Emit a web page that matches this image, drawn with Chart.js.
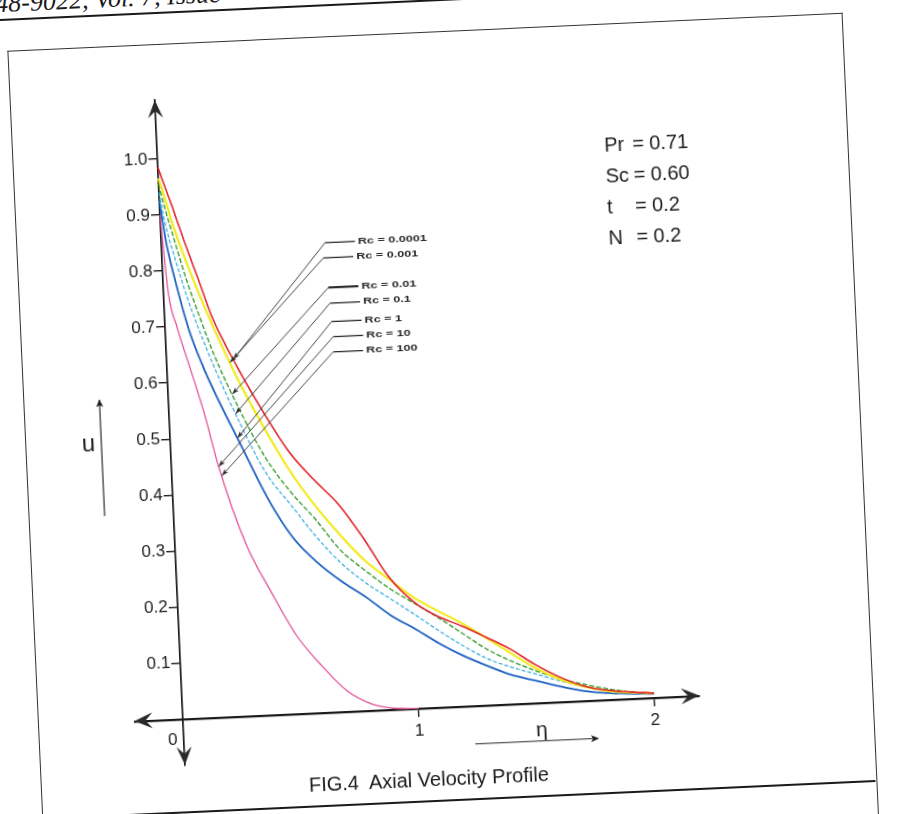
<!DOCTYPE html>
<html><head><meta charset="utf-8">
<title>FIG.4 Axial Velocity Profile</title>
<script src="https://cdn.jsdelivr.net/npm/chart.js@4.4.1/dist/chart.umd.min.js"></script>
<style>
html,body{margin:0;padding:0;background:#fff;width:903px;height:814px;overflow:hidden;}
#page{position:absolute;left:0;top:0;width:903px;height:814px;transform-origin:450px 407px;transform:rotate(-2.6deg);}
#hdr{position:absolute;left:14px;top:-31px;font:italic 26px "Liberation Serif","Times New Roman",serif;line-height:30px;color:#1a1a1a;white-space:nowrap;}
#hline{position:absolute;left:-60px;top:-1px;width:1020px;border-top:2px solid #1a1a1a;}
#frame{position:absolute;left:24px;top:31px;width:834px;height:900px;border:1.5px solid #333;border-bottom:none;}
#bline{position:absolute;left:-60px;top:799px;width:918px;border-top:2px solid #1a1a1a;}
#cap{position:absolute;left:212px;width:400px;top:767px;line-height:24px;text-align:center;font:20px "Liberation Sans",Arial,sans-serif;color:#1a1a1a;white-space:nowrap;}
#c{position:absolute;left:0;top:0;}
</style></head>
<body>
<div id="page">
  <div id="hdr">48-9022, Vol. 7, Issue</div>
  <div id="hline"></div>
  <div id="frame"></div>
  <canvas id="c" width="903" height="814"></canvas>
  <div id="bline"></div>
  <div id="cap">FIG.4&nbsp; Axial Velocity Profile</div>
</div>
<script>
// ---- data ----
const etaValues = [0, 0.02, 0.05, 0.1, 0.15, 0.2, 0.3, 0.4, 0.5, 0.6, 0.7, 0.8, 0.9, 1.0, 1.1, 1.2, 1.3, 1.4, 1.5, 1.6, 1.7, 1.8, 1.9, 2.0];
const uRc_0_0001 = [0.985, 0.958, 0.918, 0.848, 0.782, 0.715, 0.621, 0.540, 0.468, 0.416, 0.370, 0.307, 0.236, 0.190, 0.162, 0.143, 0.121, 0.098, 0.069, 0.045, 0.027, 0.017, 0.012, 0.008];
const uRc_0_001  = [0.965, 0.935, 0.885, 0.817, 0.756, 0.700, 0.599, 0.512, 0.434, 0.370, 0.316, 0.268, 0.232, 0.198, 0.172, 0.148, 0.120, 0.091, 0.063, 0.041, 0.026, 0.016, 0.011, 0.008];
const uRc_0_01   = [0.955, 0.915, 0.864, 0.782, 0.713, 0.649, 0.546, 0.459, 0.396, 0.345, 0.288, 0.250, 0.216, 0.188, 0.160, 0.130, 0.100, 0.077, 0.058, 0.042, 0.030, 0.020, 0.012, 0.008];
const uRc_0_1    = [0.940, 0.885, 0.830, 0.750, 0.684, 0.625, 0.521, 0.431, 0.372, 0.314, 0.265, 0.228, 0.198, 0.168, 0.137, 0.108, 0.083, 0.066, 0.052, 0.038, 0.026, 0.017, 0.011, 0.008];
const uRc_1      = [0.925, 0.853, 0.786, 0.694, 0.630, 0.577, 0.482, 0.388, 0.315, 0.268, 0.232, 0.202, 0.168, 0.142, 0.114, 0.090, 0.070, 0.052, 0.040, 0.028, 0.018, 0.012, 0.009, 0.007];
const uRc_10_100 = [0.900, 0.762, 0.700, 0.622, 0.542, 0.447, 0.308, 0.218, 0.138, 0.083, 0.037, 0.012, 0.002, 0.000, null, null, null, null, null, null, null, null, null, null];

const seriesNames = ['Rc = 0.0001', 'Rc = 0.001', 'Rc = 0.01', 'Rc = 0.1', 'Rc = 1', 'Rc = 10, 100'];
const leaderLabels = ['Rc = 0.0001', 'Rc = 0.001', 'Rc = 0.01', 'Rc = 0.1', 'Rc = 1', 'Rc = 10', 'Rc = 100'];
const yTickValues = [0.1, 0.2, 0.3, 0.4, 0.5, 0.6, 0.7, 0.8, 0.9, 1.0];
const yTickLabels = ['0.1', '0.2', '0.3', '0.4', '0.5', '0.6', '0.7', '0.8', '0.9', '1.0'];
const xTickValues = [1, 2];
const xTickLabels = ['1', '2'];
const originLabel = '0';
const paramNames = ['Pr', 'Sc', 't', 'N'];
const paramValues = ['0.71', '0.60', '0.2', '0.2'];

// ---- styling / annotation layout (not data) ----
const seriesValues = [uRc_0_0001, uRc_0_001, uRc_0_01, uRc_0_1, uRc_1, uRc_10_100];
const seriesStyle = [
  {color: '#e2262d', width: 1.6, dash: []},
  {color: '#f3ea1e', width: 2.2, dash: []},
  {color: '#3b9e2e', width: 1.4, dash: [5, 2]},
  {color: '#40b2e2', width: 1.3, dash: [4, 2]},
  {color: '#1f62c2', width: 1.8, dash: []},
  {color: '#e4559a', width: 1.3, dash: []}
];
const leaderSpec = [
  {series: 0, tipEta: 0.283, elbow: [0.693, 0.837]},
  {series: 1, tipEta: 0.268, elbow: [0.683, 0.810]},
  {series: 2, tipEta: 0.272, elbow: [0.699, 0.757]},
  {series: 3, tipEta: 0.282, elbow: [0.703, 0.729]},
  {series: 4, tipEta: 0.285, elbow: [0.706, 0.696]},
  {series: 5, tipEta: 0.200, elbow: [0.710, 0.669]},
  {series: 5, tipEta: 0.212, elbow: [0.707, 0.642]}
];
const FONT = '"Liberation Sans", Arial, Helvetica, sans-serif';

function interp(arr, e) {
  for (let i = 0; i < etaValues.length - 1; i++) {
    if (e >= etaValues[i] && e <= etaValues[i + 1] && arr[i] != null && arr[i + 1] != null) {
      const t = (e - etaValues[i]) / (etaValues[i + 1] - etaValues[i]);
      return arr[i] + t * (arr[i + 1] - arr[i]);
    }
  }
  return null;
}

const figPlugin = {
  id: 'figAnnotations',
  afterDraw(chart) {
    const ctx = chart.ctx;
    const xs = chart.scales.x, ys = chart.scales.y;
    const X = v => xs.getPixelForValue(v);
    const Y = v => ys.getPixelForValue(v);
    const ca = chart.chartArea;
    const ox = X(0), oy = Y(0);
    ctx.save();
    const head = (tx, ty, ang, len, half, notch) => {
      ctx.save(); ctx.translate(tx, ty); ctx.rotate(ang);
      ctx.beginPath(); ctx.moveTo(0, 0); ctx.lineTo(-len, -half); ctx.lineTo(-notch, 0); ctx.lineTo(-len, half); ctx.closePath(); ctx.fill();
      ctx.restore();
    };
    // axis arrowheads
    ctx.fillStyle = '#2a2a2a';
    head(ca.left, oy, Math.PI, 18, 8, 11);
    head(ca.right, oy, 0, 18, 8, 11);
    head(ox, ca.top, -Math.PI / 2, 18, 7.5, 11);
    head(ox, ca.bottom, Math.PI / 2, 18, 7.5, 11);

    // tick labels
    ctx.fillStyle = '#1c1c1c';
    ctx.font = '17px ' + FONT;
    ctx.textAlign = 'right'; ctx.textBaseline = 'middle';
    yTickValues.forEach((v, i) => ctx.fillText(yTickLabels[i], ox - 10, Y(v)));
    ctx.textAlign = 'center';
    xTickValues.forEach((v, i) => ctx.fillText(xTickLabels[i], X(v), oy + 23));
    ctx.fillText(originLabel, ox - 11, oy + 21);

    // parameter block
    ctx.font = '20px ' + FONT;
    ctx.textAlign = 'left';
    const px = X(1.894), py = Y(0.987);
    paramNames.forEach((n, i) => {
      const yy = py + i * 31;
      ctx.fillText(n, px, yy);
      ctx.fillText('=', px + 28, yy);
      ctx.fillText(paramValues[i], px + 45, yy);
    });

    // axis titles with arrows
    ctx.font = '24px ' + FONT;
    ctx.textAlign = 'center';
    ctx.fillText('u', X(-0.347), Y(0.497));
    ctx.font = '21px ' + FONT;
    ctx.fillText('\u03b7', X(1.517), Y(-0.049));
    ctx.strokeStyle = '#2a2a2a'; ctx.lineWidth = 1.2;
    ctx.beginPath(); ctx.moveTo(X(-0.292), Y(0.368)); ctx.lineTo(X(-0.292), Y(0.575)); ctx.stroke();
    head(X(-0.292), Y(0.575) - 1, -Math.PI / 2, 8, 3.5, 6);
    ctx.beginPath(); ctx.moveTo(X(1.233), Y(-0.068)); ctx.lineTo(X(1.754), Y(-0.068)); ctx.stroke();
    head(X(1.754) + 1, Y(-0.068), 0, 8, 3.5, 6);

    // leader lines with labels
    ctx.strokeStyle = '#2a2a2a';
    ctx.fillStyle = '#2a2a2a';
    leaderSpec.forEach((s, i) => {
      const tu = interp(seriesValues[s.series], s.tipEta);
      const tx = X(s.tipEta), ty = Y(tu);
      const ex = X(s.elbow[0]), ey = Y(s.elbow[1]);
      ctx.lineWidth = 0.9;
      ctx.beginPath(); ctx.moveTo(tx, ty); ctx.lineTo(ex, ey); ctx.stroke();
      ctx.lineWidth = i === 2 ? 2.2 : 1.3;
      ctx.beginPath(); ctx.moveTo(ex, ey); ctx.lineTo(ex + 30, ey); ctx.stroke();
      head(tx, ty, Math.atan2(ty - ey, tx - ex), 7, 2.5, 5);
      ctx.save();
      ctx.translate(ex + 33, ey);
      ctx.scale(1.4, 1);
      ctx.font = 'bold 9px ' + FONT;
      ctx.textAlign = 'left'; ctx.textBaseline = 'middle';
      ctx.fillText(leaderLabels[i], 0, 0);
      ctx.restore();
    });
    ctx.restore();
  }
};

const datasets = seriesValues.map((arr, k) => ({
  label: seriesNames[k],
  data: etaValues.map((e, i) => ({x: e, y: arr[i]})),
  borderColor: seriesStyle[k].color,
  borderWidth: seriesStyle[k].width,
  borderDash: seriesStyle[k].dash,
  pointRadius: 0,
  fill: false,
  spanGaps: false,
  cubicInterpolationMode: 'monotone'
}));

new Chart(document.getElementById('c'), {
  type: 'line',
  data: {datasets},
  options: {
    responsive: false,
    animation: false,
    devicePixelRatio: 1,
    layout: {padding: {left: 120.6, top: 87, right: 217.2, bottom: 61.4}},
    plugins: {legend: {display: false}, tooltip: {enabled: false}},
    scales: {
      x: {
        type: 'linear', min: -0.205, max: 2.19, position: {y: 0},
        afterBuildTicks: s => { s.ticks = xTickValues.map(v => ({value: v})); },
        grid: {display: true, drawOnChartArea: false, drawTicks: true, tickLength: 7, color: '#222', lineWidth: 1.4},
        border: {display: true, color: '#1a1a1a', width: 2.2},
        ticks: {display: false}
      },
      y: {
        type: 'linear', min: -0.082, max: 1.105, position: {x: 0},
        afterBuildTicks: s => { s.ticks = yTickValues.map(v => ({value: v})); },
        grid: {display: true, drawOnChartArea: false, drawTicks: true, tickLength: 8, color: '#222', lineWidth: 1.4},
        border: {display: true, color: '#1a1a1a', width: 1.7},
        ticks: {display: false}
      }
    }
  },
  plugins: [figPlugin]
});
</script>
</body></html>
